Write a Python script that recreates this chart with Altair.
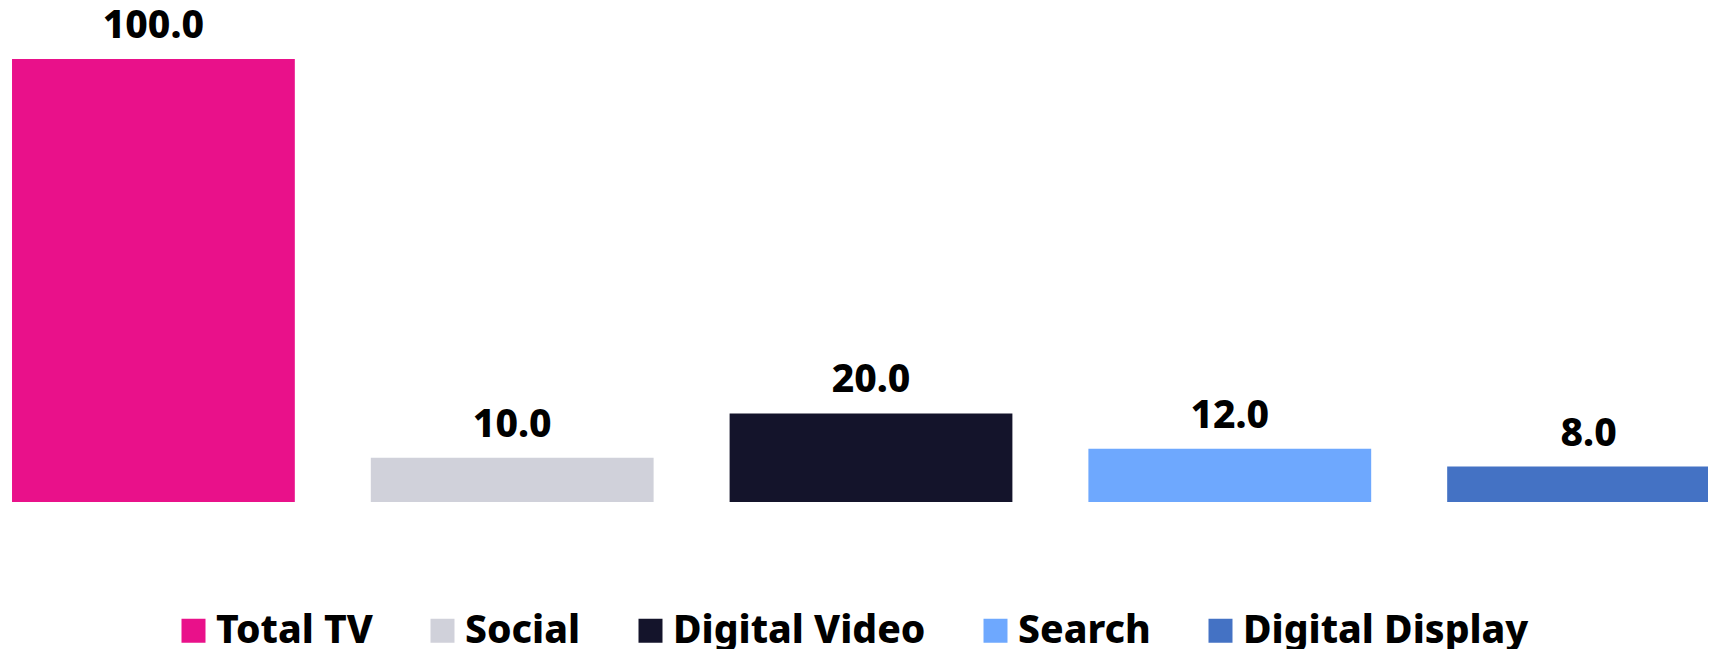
import altair as alt
import pandas as pd

categories = ["Total TV", "Social", "Digital Video", "Search", "Digital Display"]
values = [100.0, 10.0, 20.0, 12.0, 8.0]
colors = ["#E9118A", "#D0D1DA", "#14142B", "#6EA8FE", "#4472C4"]

df = pd.DataFrame({"channel": categories, "value": values})
df["label"] = df["value"].map(lambda v: f"{v:.1f}")

FONT = "Noto Sans"
FS = 39

xscale = alt.Scale(range=[0, 1726], paddingInner=0.2118, paddingOuter=0.0112)
yscale = alt.Scale(domain=[0, 111.5], nice=False, zero=True, range=[494, 0])

x = alt.X("channel:N", sort=categories, axis=None, scale=xscale)
y = alt.Y("value:Q", axis=None, scale=yscale)

bars = alt.Chart(df).mark_bar().encode(
    x=x,
    y=y,
    color=alt.Color(
        "channel:N",
        sort=categories,
        scale=alt.Scale(domain=categories, range=colors),
        legend=alt.Legend(
            title=None,
            orient="none",
            legendX=166,
            legendY=603,
            direction="horizontal",
            columns=5,
            symbolType="square",
            symbolSize=576,
            symbolStrokeWidth=0,
            symbolOpacity=1,
            labelFont=FONT,
            labelFontSize=FS,
            labelFontWeight=800,
            labelColor="#000000",
            labelOffset=3,
            columnPadding=50,
            labelLimit=400,
        ),
    ),
)

labels = alt.Chart(df).mark_text(
    font=FONT, fontSize=FS, fontWeight=800, color="#000000",
    baseline="alphabetic", align="center", dy=-21,
).encode(x=x, y=y, text="label:N")

chart = (bars + labels).properties(
    width=1700, height=641, padding=0,
    autosize=alt.AutoSizeParams(type="none"),
).configure(background="#ffffff").configure_view(strokeWidth=0, stroke="transparent")

chart.save("out.html", embed_options={"renderer": "svg", "actions": False})
